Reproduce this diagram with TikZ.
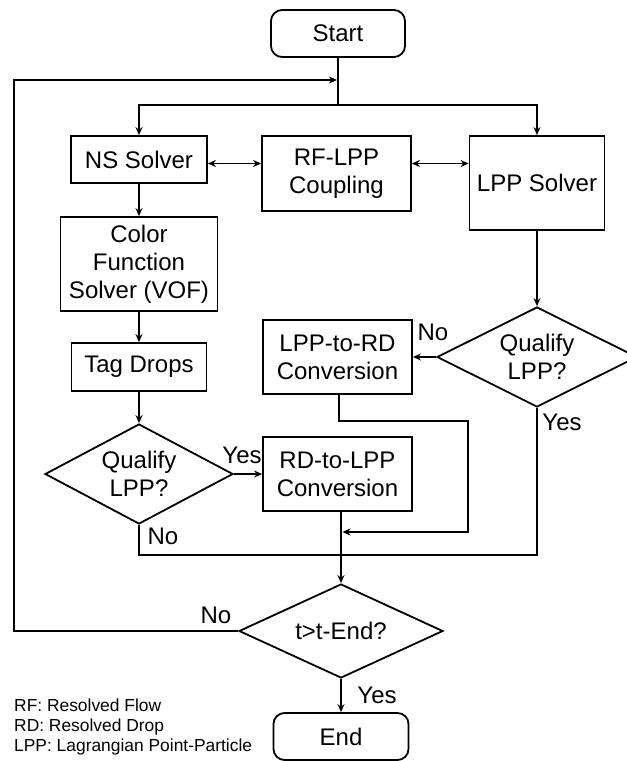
\documentclass[tikz,border=0pt]{standalone}
\usepackage{fontspec}
\setmainfont{Liberation Sans}
\usetikzlibrary{shapes.geometric,arrows.meta}
\begin{document}
\begin{tikzpicture}[x=1pt,y=-1pt,
  every node/.style={font=\fontsize{24}{28}\selectfont},
  box/.style={draw,line width=1.8pt,rectangle,inner sep=0pt,align=center},
  term/.style={box,rounded corners=11pt},
  dec/.style={draw,line width=1.8pt,diamond,aspect=2,inner sep=0pt,align=center},
  conn/.style={line width=1.8pt},
  arr/.style={conn,-{Stealth[length=8pt,width=7pt]}},
  lbl/.style={inner sep=0pt}]
\useasboundingbox (0,0) rectangle (627,761);
% nodes
\node[term,minimum width=134pt,minimum height=47pt] (start) at (338,33.5) {Start};
\node[box,minimum width=136pt,minimum height=47pt] (ns) at (139,159.5) {NS Solver};
\node[box,minimum width=149pt,minimum height=75pt] (rf) at (336.5,173.5) {RF-LPP\\Coupling};
\node[box,minimum width=135pt,minimum height=94pt] (lpp) at (537,183) {LPP Solver};
\node[box,minimum width=157pt,minimum height=94pt] (color) at (139,264) {Color\\Function\\Solver (VOF)};
\node[box,minimum width=135pt,minimum height=48pt] (tag) at (139,367) {Tag Drops};
\node[box,minimum width=149pt,minimum height=74pt] (l2r) at (337.5,357) {LPP-to-RD\\Conversion};
\node[box,minimum width=149pt,minimum height=74pt] (r2l) at (337.5,474) {RD-to-LPP\\Conversion};
\node[dec,minimum width=200pt,minimum height=100pt] (qR) at (537,357) {Qualify\\LPP?};
\node[dec,minimum width=188pt,minimum height=100pt] (qL) at (139,474) {Qualify\\LPP?};
\node[dec,minimum width=204pt,minimum height=94pt] (tEnd) at (341,631) {t>t-End?};
\node[term,minimum width=135pt,minimum height=47pt] (end) at (341,736.5) {End};
% labels
\node[lbl] (noR) at (433,332) {No};
\node[lbl] (yesR) at (562,422) {Yes};
\node[lbl] (yesL) at (242,455) {Yes};
\node[lbl] (noL) at (163,536) {No};
\node[lbl] (noT) at (216,615) {No};
\node[lbl] (yesT) at (377,695) {Yes};
\node[lbl,anchor=west,align=left,font=\fontsize{17.4}{20.3}\selectfont] (legend) at (14,727) {RF: Resolved Flow\\RD: Resolved Drop\\LPP: Lagrangian Point-Particle};
% coordinates
\coordinate (split) at (338,105);
\coordinate (looptop) at (337,80);
\coordinate (loopcorner) at (14,80);
\coordinate (arrY) at (0,163.5);
\coordinate (j1) at (468,421);
\coordinate (merge) at (342.5,532);
\coordinate (bot) at (341,555);
% connectors
\draw[conn] (start.south) -- (split);
\draw[arr] (split) -| (ns.north);
\draw[arr] (split) -| (lpp.north);
\draw[conn,{Stealth[length=8pt,width=7pt]}-{Stealth[length=8pt,width=7pt]}] (ns.east |- arrY) -- (rf.west |- arrY);
\draw[conn,{Stealth[length=8pt,width=7pt]}-{Stealth[length=8pt,width=7pt]}] (rf.east |- arrY) -- (lpp.west |- arrY);
\draw[arr] (ns.south) -- (color.north);
\draw[arr] (color.south) -- (tag.north);
\draw[arr] (tag.south) -- (qL.north);
\draw[arr] (lpp.south) -- (qR.north);
\draw[arr] (qR.west) -- (l2r.east);
\draw[arr] (qL.east) -- (r2l.west);
\draw[arr] ([xshift=1.5pt]l2r.south) |- (j1) |- (merge);
\draw[conn] (qL.south) |- (bot) -| (qR.south);
\draw[arr] (r2l.south -| tEnd.north) -- (tEnd.north);
\draw[arr] (tEnd.west) -| (loopcorner) -- (looptop);
\draw[arr] (tEnd.south) -- (end.north);
\end{tikzpicture}
\end{document}
